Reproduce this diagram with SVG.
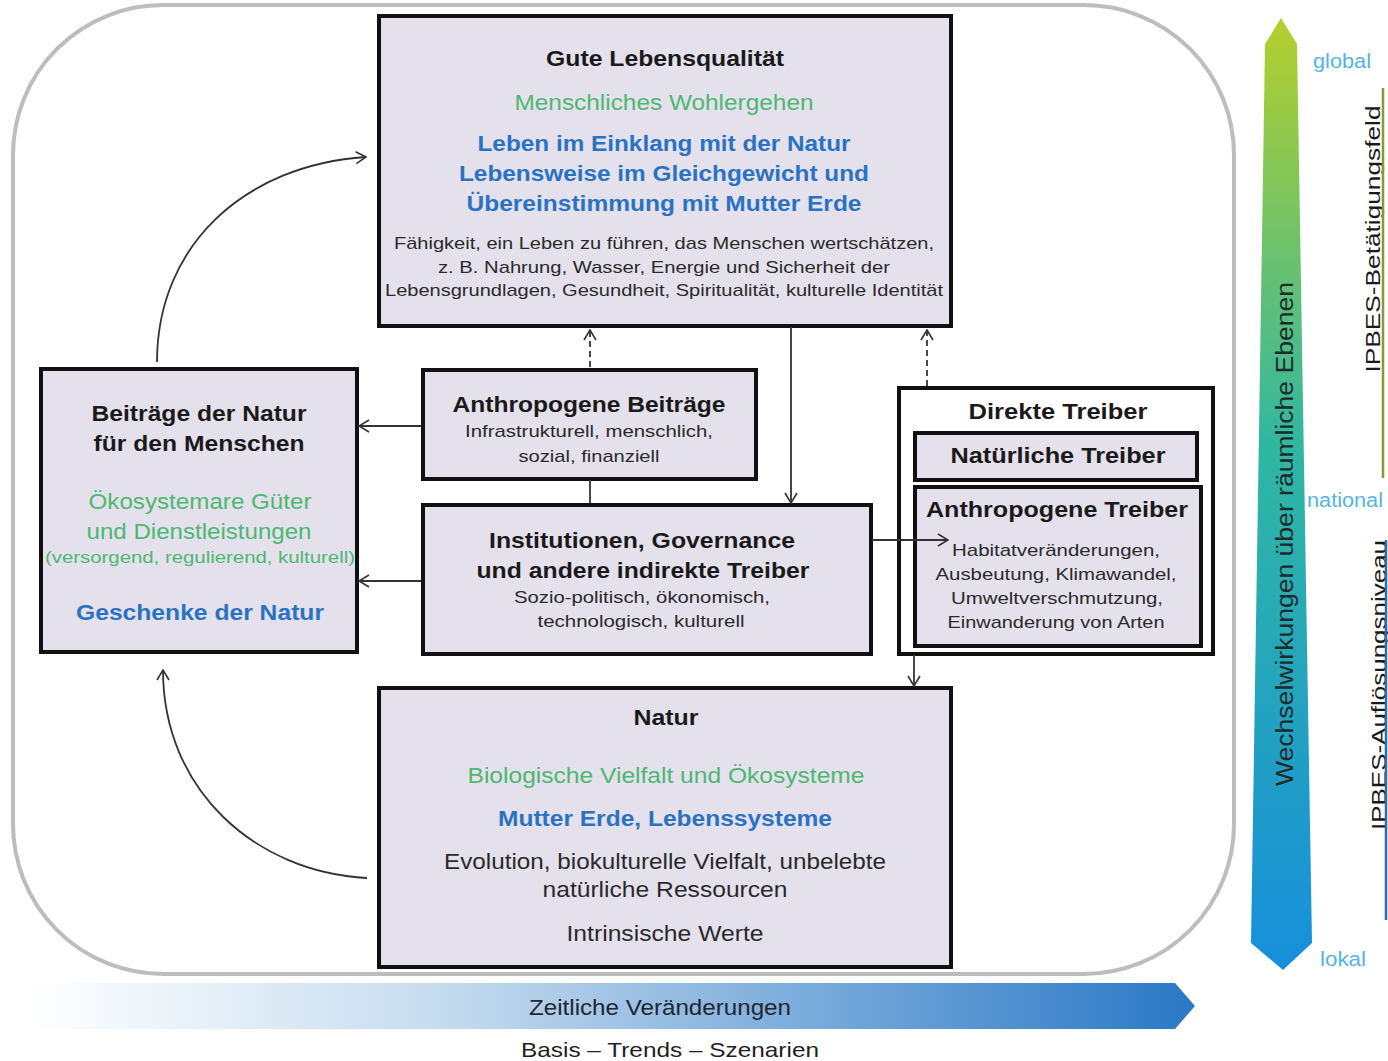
<svg xmlns="http://www.w3.org/2000/svg" width="1388" height="1061" viewBox="0 0 1388 1061">
<style>
text{font-family:"Liberation Sans",Arial,sans-serif;text-anchor:middle}
.box{fill:#e5e1ec;stroke:#111;stroke-width:4}
.h{font-weight:bold;font-size:22px;fill:#1a1a1a}
.g{font-size:22px;fill:#4cb872}
.gs{font-size:16px;fill:#4cb872}
.b{font-weight:bold;font-size:22px;fill:#2a72c2}
.s{font-size:17px;fill:#2a2a2a}
.m{font-size:22px;fill:#2a2a2a}
.lvl{font-size:20px;fill:#55b4e2;text-anchor:start}
.con{fill:none;stroke:#333;stroke-width:1.8}
.dash{stroke-dasharray:6 4}
</style>
<defs>
<marker id="arr" viewBox="0 0 12 14" refX="11" refY="7" markerWidth="12" markerHeight="14" markerUnits="userSpaceOnUse" orient="auto">
<path d="M1,1 L11,7 L1,13" fill="none" stroke="#333" stroke-width="1.6"/>
</marker>
<linearGradient id="vgrad" x1="0" y1="0" x2="0" y2="1">
<stop offset="0" stop-color="#b5cf2c"/>
<stop offset="0.45" stop-color="#30b7a2"/>
<stop offset="1" stop-color="#168fdc"/>
</linearGradient>
<linearGradient id="hgrad" x1="0" y1="0" x2="1" y2="0">
<stop offset="0" stop-color="#ffffff"/>
<stop offset="0.35" stop-color="#c6dcef"/>
<stop offset="1" stop-color="#2a78c6"/>
</linearGradient>
</defs>
<rect width="1388" height="1061" fill="#ffffff"/>
<g id="frame">
<rect x="13" y="5" width="1221" height="969" rx="150" ry="150" fill="none" stroke="#bdbdbd" stroke-width="4"/>
</g>
<g id="gute-lebensqualitaet">
<rect class="box" x="379" y="16" width="572" height="310"/>
<text class="h" x="665" y="66" textLength="238" lengthAdjust="spacingAndGlyphs">Gute Lebensqualität</text>
<text class="g" x="664" y="110" textLength="299" lengthAdjust="spacingAndGlyphs">Menschliches Wohlergehen</text>
<text class="b" x="664" y="151" textLength="373" lengthAdjust="spacingAndGlyphs">Leben im Einklang mit der Natur</text>
<text class="b" x="664" y="181" textLength="410" lengthAdjust="spacingAndGlyphs">Lebensweise im Gleichgewicht und</text>
<text class="b" x="664" y="211" textLength="395" lengthAdjust="spacingAndGlyphs">Übereinstimmung mit Mutter Erde</text>
<text class="s" x="664" y="249" textLength="540" lengthAdjust="spacingAndGlyphs">Fähigkeit, ein Leben zu führen, das Menschen wertschätzen,</text>
<text class="s" x="664" y="273" textLength="452" lengthAdjust="spacingAndGlyphs">z. B. Nahrung, Wasser, Energie und Sicherheit der</text>
<text class="s" x="664" y="296" textLength="558" lengthAdjust="spacingAndGlyphs">Lebensgrundlagen, Gesundheit, Spiritualität, kulturelle Identität</text>
</g>
<g id="beitraege-natur">
<rect class="box" x="41" y="369" width="316" height="283"/>
<text class="h" x="199" y="421" textLength="215" lengthAdjust="spacingAndGlyphs">Beiträge der Natur</text>
<text class="h" x="199" y="451" textLength="211" lengthAdjust="spacingAndGlyphs">für den Menschen</text>
<text class="g" x="200" y="509" textLength="223" lengthAdjust="spacingAndGlyphs">Ökosystemare Güter</text>
<text class="g" x="199" y="539" textLength="225" lengthAdjust="spacingAndGlyphs">und Dienstleistungen</text>
<text class="gs" x="200" y="563" textLength="310" lengthAdjust="spacingAndGlyphs">(versorgend, regulierend, kulturell)</text>
<text class="b" x="200" y="620" textLength="248" lengthAdjust="spacingAndGlyphs">Geschenke der Natur</text>
</g>
<g id="anthropogene-beitraege">
<rect class="box" x="423" y="370" width="333" height="109"/>
<text class="h" x="589" y="412" textLength="273" lengthAdjust="spacingAndGlyphs">Anthropogene Beiträge</text>
<text class="s" x="589" y="437" textLength="248" lengthAdjust="spacingAndGlyphs">Infrastrukturell, menschlich,</text>
<text class="s" x="589" y="462" textLength="141" lengthAdjust="spacingAndGlyphs">sozial, finanziell</text>
</g>
<g id="institutionen">
<rect class="box" x="423" y="505" width="448" height="149"/>
<text class="h" x="642" y="548" textLength="306" lengthAdjust="spacingAndGlyphs">Institutionen, Governance</text>
<text class="h" x="643" y="578" textLength="333" lengthAdjust="spacingAndGlyphs">und andere indirekte Treiber</text>
<text class="s" x="642" y="603" textLength="256" lengthAdjust="spacingAndGlyphs">Sozio-politisch, ökonomisch,</text>
<text class="s" x="641" y="627" textLength="207" lengthAdjust="spacingAndGlyphs">technologisch, kulturell</text>
</g>
<g id="direkte-treiber">
<rect x="899" y="388" width="314" height="266" fill="#ffffff" stroke="#111" stroke-width="4"/>
<text class="h" x="1058" y="419" textLength="179" lengthAdjust="spacingAndGlyphs">Direkte Treiber</text>
</g>
<g id="natuerliche-treiber">
<rect class="box" x="915" y="433" width="282" height="47"/>
<text class="h" x="1058" y="463" textLength="215" lengthAdjust="spacingAndGlyphs">Natürliche Treiber</text>
</g>
<g id="anthropogene-treiber">
<rect class="box" x="915" y="487" width="286" height="159"/>
<text class="h" x="1057" y="517" textLength="262" lengthAdjust="spacingAndGlyphs">Anthropogene Treiber</text>
<text class="s" x="1056" y="556" textLength="208" lengthAdjust="spacingAndGlyphs">Habitatveränderungen,</text>
<text class="s" x="1056" y="580" textLength="241" lengthAdjust="spacingAndGlyphs">Ausbeutung, Klimawandel,</text>
<text class="s" x="1057" y="604" textLength="212" lengthAdjust="spacingAndGlyphs">Umweltverschmutzung,</text>
<text class="s" x="1056" y="628" textLength="217" lengthAdjust="spacingAndGlyphs">Einwanderung von Arten</text>
</g>
<g id="natur">
<rect class="box" x="379" y="688" width="572" height="279"/>
<text class="h" x="666" y="725" textLength="65" lengthAdjust="spacingAndGlyphs">Natur</text>
<text class="g" x="666" y="783" textLength="397" lengthAdjust="spacingAndGlyphs">Biologische Vielfalt und Ökosysteme</text>
<text class="b" x="665" y="826" textLength="334" lengthAdjust="spacingAndGlyphs">Mutter Erde, Lebenssysteme</text>
<text class="m" x="665" y="869" textLength="442" lengthAdjust="spacingAndGlyphs">Evolution, biokulturelle Vielfalt, unbelebte</text>
<text class="m" x="665" y="897" textLength="245" lengthAdjust="spacingAndGlyphs">natürliche Ressourcen</text>
<text class="m" x="665" y="941" textLength="197" lengthAdjust="spacingAndGlyphs">Intrinsische Werte</text>
</g>
<g id="connectors">
<path class="con dash" d="M590,367 L590,330" marker-end="url(#arr)"/>
<path class="con dash" d="M927,386 L927,330" marker-end="url(#arr)"/>
<path class="con" d="M791,327 L791,503" marker-end="url(#arr)"/>
<path class="con" d="M590,480 L590,503"/>
<path class="con" d="M421,426 L359,426" marker-end="url(#arr)"/>
<path class="con" d="M421,581 L359,581" marker-end="url(#arr)"/>
<path class="con" d="M872,540 L948,540" marker-end="url(#arr)"/>
<path class="con" d="M914,655 L914,686" marker-end="url(#arr)"/>
<path class="con" d="M157,362 C157,245 245,165 366,157" marker-end="url(#arr)"/>
<path class="con" d="M367,878 C255,872 163,790 163,670" marker-end="url(#arr)"/>
</g>
<g id="raeumliche-ebenen">
<polygon points="1281,18 1297,44 1312,943 1283,970 1251,943 1265,44" fill="url(#vgrad)"/>
<text x="0" y="0" transform="translate(1293,534) rotate(-90)" font-size="23" fill="#1f2a2a" textLength="504" lengthAdjust="spacingAndGlyphs">Wechselwirkungen über räumliche Ebenen</text>
<text class="lvl" x="1313" y="68" textLength="58" lengthAdjust="spacingAndGlyphs">global</text>
<text class="lvl" x="1307" y="507" textLength="76" lengthAdjust="spacingAndGlyphs">national</text>
<text class="lvl" x="1320" y="966" textLength="46" lengthAdjust="spacingAndGlyphs">lokal</text>
</g>
<g id="ipbes-betaetigungsfeld">
<text x="0" y="0" transform="translate(1380,239) rotate(-90)" font-size="21" fill="#1a1a1a" textLength="267" lengthAdjust="spacingAndGlyphs">IPBES-Betätigungsfeld</text>
<line x1="1383" y1="88" x2="1383" y2="478" stroke="#8a9a2c" stroke-width="2.5"/>
</g>
<g id="ipbes-aufloesungsniveau">
<text x="0" y="0" transform="translate(1386,685) rotate(-90)" font-size="21" fill="#1a1a1a" textLength="290" lengthAdjust="spacingAndGlyphs">IPBES-Auflösungsniveau</text>
<line x1="1386" y1="540" x2="1386" y2="920" stroke="#2a6cb0" stroke-width="2.5"/>
</g>
<g id="zeitliche-veraenderungen">
<polygon points="28,983 1175,983 1195,1006 1175,1029 28,1029" fill="url(#hgrad)"/>
<text x="660" y="1015" font-size="22" fill="#1f2633" textLength="262" lengthAdjust="spacingAndGlyphs">Zeitliche Veränderungen</text>
<text x="670" y="1057" font-size="21" fill="#1f1f1f" textLength="298" lengthAdjust="spacingAndGlyphs">Basis – Trends – Szenarien</text>
</g>
</svg>
